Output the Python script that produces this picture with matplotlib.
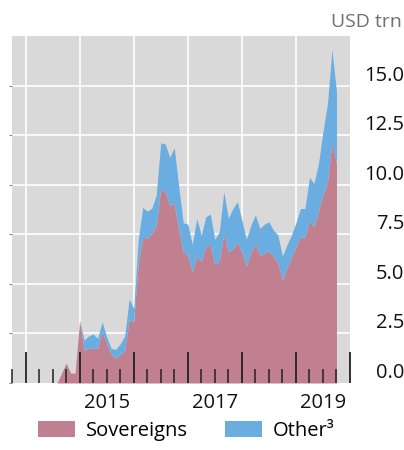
import matplotlib
matplotlib.use('Agg')
import matplotlib.pyplot as plt
import matplotlib.transforms as mtransforms
import numpy as np

plt.rcParams['font.family'] = ['Open Sans', 'DejaVu Sans']

# monthly data, Aug 2014 .. Oct 2019 (USD trn)
start_year, start_month = 2014, 8
sovereigns = [0.0, 0.5, 1.0, 0.5, 0.5,
              3.15, 1.65, 1.75, 1.75, 1.75, 2.6, 2.0, 1.45, 1.25, 1.45, 1.65, 3.2,
              3.1, 6.0, 7.35, 7.3, 7.55, 7.95, 9.8, 9.65, 8.95, 9.05, 7.7, 6.6,
              6.45, 5.6, 6.4, 6.1, 6.9, 6.95, 5.95, 6.15, 7.55, 6.6, 6.75, 7.1,
              6.6, 5.9, 6.6, 7.0, 6.45, 6.55, 6.65, 6.4, 6.05, 5.2, 5.8, 6.35,
              6.9, 7.35, 7.35, 8.2, 7.85, 8.7, 9.5, 10.15, 12.15, 11.05]
total = [0.0, 0.5, 1.0, 0.5, 0.5,
         3.15, 2.17, 2.37, 2.47, 2.25, 3.09, 2.33, 1.75, 1.7, 1.97, 2.37, 4.23,
         3.76, 7.2, 8.85, 8.67, 8.8, 9.48, 12.11, 12.05, 11.38, 11.86, 9.9, 8.08,
         8.01, 6.99, 8.3, 7.46, 8.38, 8.52, 7.24, 7.63, 9.64, 8.3, 8.8, 9.14,
         8.22, 7.24, 7.96, 8.47, 7.8, 8.01, 8.13, 7.71, 7.46, 6.4, 6.96, 7.46,
         8.08, 8.8, 8.8, 10.37, 10.07, 11.07, 12.67, 14.1, 16.8, 14.7]
other = [t - s for t, s in zip(total, sovereigns)]

yticks = [0.0, 2.5, 5.0, 7.5, 10.0, 12.5, 15.0]
year_labels = [2015, 2017, 2019]

t = start_year + (start_month - 1) / 12 + np.arange(len(sovereigns)) / 12
sov = np.array(sovereigns)
top = sov + np.array(other)

pink = '#C0808F'
blue = '#6AADE0'

fig = plt.figure(figsize=(4.04, 4.5), dpi=100)
ax = fig.add_axes([12 / 404, 1 - 383 / 450, 338 / 404, 347 / 450])
ax.set_facecolor('#D9D9D9')
for s in ax.spines.values():
    s.set_visible(False)

ax.set_xlim(2013.75, 2020.0)
ax.set_ylim(0, 17.5)

# gridlines under the areas
for y in yticks[1:]:
    ax.axhline(y, color='white', lw=1.2, zorder=0.5)
for yr in range(2014, 2020):
    ax.axvline(yr, color='white', lw=1.2, zorder=0.5)

ax.fill_between(t, 0, sov, color=pink, lw=0, zorder=1, label='Sovereigns')
ax.fill_between(t, sov, top, color=blue, lw=0, zorder=1, label='Other³')

# x ticks: years tall, quarters short, drawn inward
ax.set_xticks(np.arange(2014, 2021))
ax.set_xticks(np.arange(2013.75, 2020, 0.25), minor=True)
ax.tick_params(axis='x', which='major', direction='in', length=22, width=1.3,
               color='#222222', labelbottom=False)
ax.tick_params(axis='x', which='minor', direction='in', length=10, width=1.1,
               color='#222222')
trans = mtransforms.blended_transform_factory(ax.transData, ax.transAxes)
for yr in year_labels:
    ax.text(yr + 0.5, -0.03, str(yr), transform=trans, ha='center', va='top',
            fontsize=14.5, color='#111111')

# y labels on the right, above their gridline
ax.set_yticks(yticks)
ax.set_yticklabels([f'{v:.1f}' for v in yticks])
ax.tick_params(axis='y', left=True, right=False, labelleft=False, labelright=True,
               length=2, color='#888888', pad=37, labelsize=14.5, labelcolor='#111111')
for lab in ax.get_yticklabels():
    lab.set_horizontalalignment('right')
    lab.set_verticalalignment('bottom')

fig.text(402 / 404, 1 - 22 / 450, 'USD trn', ha='right', va='center',
         fontsize=14, color='#707070')

fig.legend(loc='lower left', bbox_to_anchor=(30 / 404, 0.002), ncol=2,
           frameon=False, fontsize=14.5, handlelength=1.85, handleheight=0.9,
           handletextpad=0.55, columnspacing=1.8, borderaxespad=0)

fig.savefig('out.png', dpi=100)
